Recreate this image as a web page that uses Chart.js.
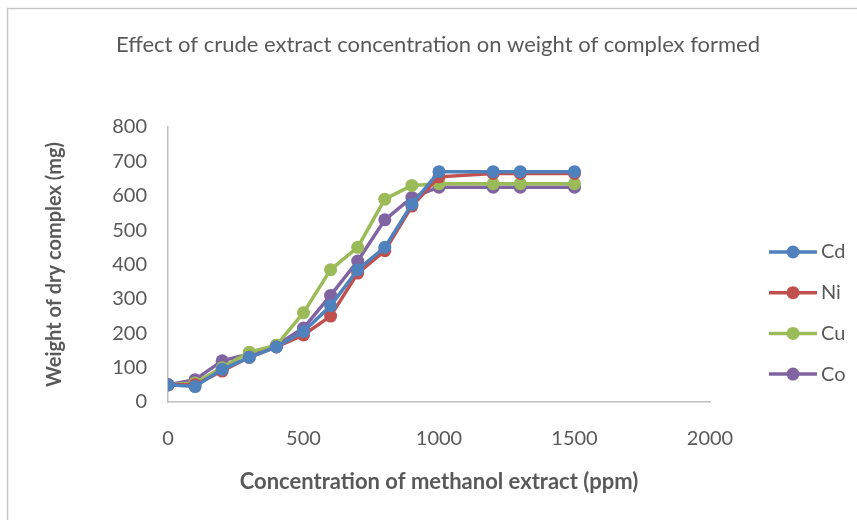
<!DOCTYPE html>
<html>
<head>
<meta charset="utf-8">
<script src="https://cdn.jsdelivr.net/npm/chart.js@4.4.1/dist/chart.umd.min.js"></script>
<style>
  html, body { margin: 0; padding: 0; background: #fff; }
  #wrap { width: 857px; height: 520px; }
</style>
</head>
<body>
<div id="wrap"><canvas id="complexChart" width="857" height="520"></canvas></div>
<script>
// Concentración del extracto (ppm) y peso del complejo (mg)
var concentrations = [0, 100, 200, 300, 400, 500, 600, 700, 800, 900, 1000, 1200, 1300, 1500];
var cdValues = [50, 45, 95, 130, 160, 205, 280, 385, 450, 575, 670, 670, 670, 670];
var niValues = [50, 50, 90, 130, 160, 195, 250, 375, 440, 570, 655, 665, 665, 665];
var cuValues = [50, 55, 100, 145, 165, 260, 385, 450, 590, 630, 635, 635, 635, 635];
var coValues = [50, 65, 120, 140, 165, 215, 310, 410, 530, 595, 625, 625, 625, 625];
var seriesNames = ['Cd', 'Ni', 'Cu', 'Co'];
var seriesColors = ['#4F81BD', '#C0504D', '#9BBB59', '#8064A2'];
var xTicks = [0, 500, 1000, 1500, 2000];
var yTicks = [0, 100, 200, 300, 400, 500, 600, 700, 800];
var chartTitle = 'Effect of crude extract concentration on weight of complex formed';

var FONT = 'Lato, "Open Sans", sans-serif';
var TEXT = '#595959';

function toPoints(values) {
    return values.map(function(v, i) { return { x: concentrations[i], y: v }; });
}

var allValues = [cdValues, niValues, cuValues, coValues];
var datasets = allValues.map(function(vals, i) {
    return {
        label: seriesNames[i],
        data: toPoints(vals),
        showLine: true,
        borderColor: seriesColors[i],
        backgroundColor: seriesColors[i],
        borderWidth: 3.5,
        pointRadius: 6.5,
        pointBorderWidth: 0,
        tension: 0
    };
});

// Fondo, marco y título centrado en todo el lienzo
var framePlugin = {
    id: 'frame',
    beforeDraw: function(chart) {
        var ctx = chart.ctx;
        ctx.save();
        ctx.fillStyle = '#fff';
        ctx.fillRect(0, 0, chart.width, chart.height);
        ctx.strokeStyle = '#c6c6c6';
        ctx.lineWidth = 1.5;
        ctx.beginPath();
        ctx.moveTo(7.5, chart.height + 5);
        ctx.lineTo(7.5, 8.5);
        ctx.lineTo(chart.width + 5, 8.5);
        ctx.stroke();
        ctx.fillStyle = TEXT;
        ctx.font = '22px ' + FONT;
        ctx.textAlign = 'center';
        ctx.textBaseline = 'middle';
        ctx.fillText(chartTitle, 438, 45);
        ctx.restore();
    }
};

// Leyenda a la derecha: línea con marcador
var legendPlugin = {
    id: 'sideLegend',
    afterDraw: function(chart) {
        var ctx = chart.ctx;
        ctx.save();
        chart.data.datasets.forEach(function(ds, i) {
            var y = 252 + i * 40.7;
            ctx.strokeStyle = ds.borderColor;
            ctx.lineWidth = 3.5;
            ctx.beginPath();
            ctx.moveTo(769, y);
            ctx.lineTo(817, y);
            ctx.stroke();
            ctx.fillStyle = ds.borderColor;
            ctx.beginPath();
            ctx.arc(793, y, 6.5, 0, Math.PI * 2);
            ctx.fill();
            ctx.fillStyle = TEXT;
            ctx.font = '20px ' + FONT;
            ctx.textAlign = 'left';
            ctx.textBaseline = 'middle';
            ctx.fillText(ds.label, 821, y);
        });
        ctx.restore();
    }
};

var ctx = document.getElementById('complexChart').getContext('2d');
var complexChart = new Chart(ctx, {
    type: 'scatter',
    data: { datasets: datasets },
    options: {
        responsive: false,
        animation: false,
        layout: { padding: { left: 0, right: 147, top: 127, bottom: 0 } },
        plugins: {
            legend: { display: false },
            tooltip: { enabled: false },
            title: { display: false }
        },
        scales: {
            x: {
                type: 'linear',
                min: 0,
                max: 2000,
                afterBuildTicks: function(scale) {
                    scale.ticks = xTicks.map(function(v) { return { value: v }; });
                },
                afterFit: function(scale) { scale.height = 118; },
                grid: { drawOnChartArea: false, drawTicks: false },
                border: { display: true, color: '#bfbfbf', width: 1.5 },
                ticks: {
                    color: TEXT,
                    font: { family: FONT, size: 20 },
                    padding: 25,
                    callback: function(v) { return String(v); }
                },
                title: {
                    display: true,
                    text: 'Concentration of methanol extract (ppm)',
                    color: TEXT,
                    font: { family: FONT, size: 22, weight: 'bold' },
                    padding: { top: 0, bottom: 25 }
                }
            },
            y: {
                type: 'linear',
                min: 0,
                max: 800,
                afterBuildTicks: function(scale) {
                    scale.ticks = yTicks.map(function(v) { return { value: v }; });
                },
                afterFit: function(scale) { scale.width = 168; },
                grid: { drawOnChartArea: false, drawTicks: false },
                border: { display: true, color: '#bfbfbf', width: 1.5 },
                ticks: {
                    color: TEXT,
                    font: { family: FONT, size: 20 },
                    padding: 21,
                    callback: function(v) { return String(v); }
                },
                title: {
                    display: true,
                    text: 'Weight of dry complex (mg)',
                    color: TEXT,
                    font: { family: FONT, size: 20, weight: 'bold' },
                    padding: { top: 43, bottom: 0 }
                }
            }
        }
    },
    plugins: [framePlugin, legendPlugin]
});
</script>
</body>
</html>
